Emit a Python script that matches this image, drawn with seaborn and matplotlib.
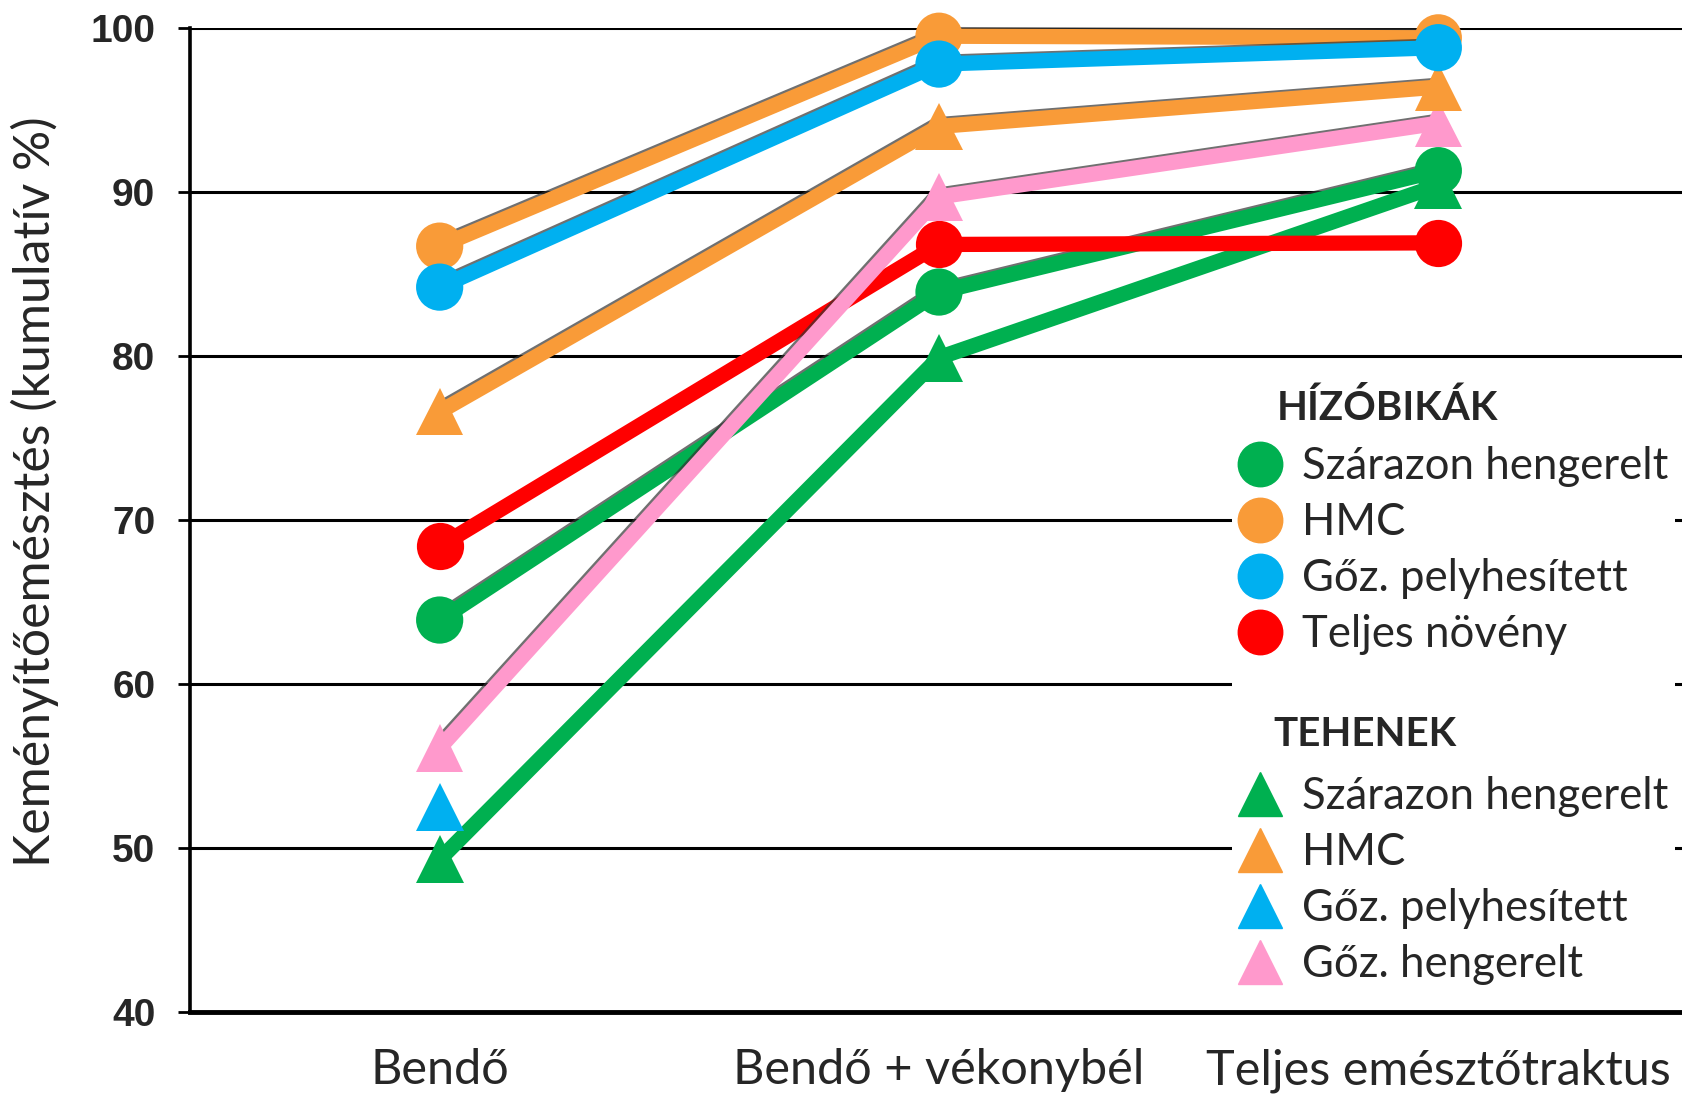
import pandas as pd
import matplotlib.pyplot as plt
import matplotlib.patheffects as pe
from matplotlib.lines import Line2D
import seaborn as sns

# emésztési szakaszok
helyek = ['Bendő', 'Bendő + vékonybél', 'Teljes emésztőtraktus']

# hízóbikák (kör jelölő)
bika_szaraz = [63.9, 83.9, 91.3]
bika_hmc = [86.7, 99.5, 99.4]
bika_goz_pely = [84.2, 97.8, 98.8]
bika_teljes = [68.4, 86.8, 86.9]

# tehenek (háromszög jelölő)
tehen_szaraz = [49.3, 79.9, 90.4]
tehen_hmc = [76.6, 94.0, 96.4]
tehen_goz_pely = [52.5]
tehen_goz_heng = [56.1, 89.7, 94.2]

zold, narancs, kek, piros, rozsa = '#00B050', '#F99B38', '#00B0F0', '#FF0000', '#FF99CC'

# rajzolási sorrend: a későbbi kerül felülre; utolsó mező: van-e árnyék
sorozatok = [
    ('tehen_szaraz', tehen_szaraz, zold, '^', False),
    ('bika_szaraz', bika_szaraz, zold, 'o', True),
    ('bika_teljes', bika_teljes, piros, 'o', False),
    ('tehen_goz_heng', tehen_goz_heng, rozsa, '^', True),
    ('tehen_hmc', tehen_hmc, narancs, '^', True),
    ('bika_hmc', bika_hmc, narancs, 'o', True),
    ('bika_goz_pely', bika_goz_pely, kek, 'o', True),
    ('tehen_goz_pely', tehen_goz_pely, kek, '^', False),
]

rows = []
for nev, ertekek, _, _, _ in sorozatok:
    for i, v in enumerate(ertekek):
        rows.append({'sorozat': nev, 'hely': i, 'ertek': v})
df = pd.DataFrame(rows)

sns.set_style('white')
plt.rcParams['font.family'] = ['Lato', 'DejaVu Sans']

fig = plt.figure(figsize=(16.83, 10.96), dpi=100)
ax = fig.add_axes([190 / 1683, 84 / 1096, 1 - 190 / 1683, 984 / 1096])

arnyek = [pe.SimpleLineShadow(offset=(-1.2, 1.2), shadow_color='0.2', alpha=0.7), pe.Normal()]
for nev, _, szin, jel, van_arnyek in sorozatok:
    sub = df[df['sorozat'] == nev]
    sns.lineplot(data=sub, x='hely', y='ertek', color=szin, marker=jel,
                 markersize=34, markeredgewidth=0, linewidth=11, ax=ax,
                 legend=False, errorbar=None, zorder=3, clip_on=False)
    if van_arnyek:
        ax.lines[-1].set_path_effects(arnyek)

ax.set_xlim(-0.5, 2.49)
ax.set_ylim(40, 100)
ax.set_yticks(range(40, 101, 10))
ax.set_yticklabels([str(v) for v in range(40, 101, 10)],
                   fontfamily='Liberation Sans', fontweight='bold', fontsize=28)
ax.set_xticks(range(3))
ax.set_xticklabels(helyek, fontsize=35)
ax.set_xticks([-0.5, 0.5, 1.5], minor=True)
ax.tick_params(axis='x', which='major', length=0, pad=26)
ax.tick_params(axis='x', which='minor', length=9, width=2, color='black', direction='out')
ax.tick_params(axis='y', length=9, width=2, color='black', direction='out', pad=16, left=True)

ax.yaxis.grid(True, color='black', linewidth=2.2)
ax.set_axisbelow(True)
for s in ['top', 'right']:
    ax.spines[s].set_visible(False)
ax.spines['left'].set_linewidth(2.6)
ax.spines['left'].set_color('black')
ax.spines['bottom'].set_linewidth(3.5)
ax.spines['bottom'].set_color('black')

ax.set_xlabel('')
ax.set_ylabel('Keményítőemésztés (kumulatív %)', fontsize=36, va='center')
ax.yaxis.set_label_coords(-0.104, 0.529)

# jelmagyarázat
ures = Line2D([], [], linestyle='none')
kor = lambda c: Line2D([], [], linestyle='none', marker='o', markersize=32, color=c)
har = lambda c: Line2D([], [], linestyle='none', marker='^', markersize=32, color=c)
kezelok = [ures, kor(zold), kor(narancs), kor(kek), kor(piros), ures,
           ures, har(zold), har(narancs), har(kek), har(rozsa)]
cimkek = [' ', 'Szárazon hengerelt', 'HMC', 'Gőz. pelyhesített', 'Teljes növény', ' ',
          ' ', 'Szárazon hengerelt', 'HMC', 'Gőz. pelyhesített', 'Gőz. hengerelt']
leg = fig.legend(kezelok, cimkek, loc='upper left', bbox_to_anchor=(1232 / 1683, 1 - 384 / 1096),
                 frameon=True, facecolor='white', edgecolor='none', framealpha=1,
                 fontsize=31.5, handlelength=1.0, handletextpad=0.45, labelspacing=0.34,
                 borderpad=0.15, borderaxespad=0)
leg.get_texts()[5].set_fontsize(22)  # kisebb térköz a két csoport között
fig.text(1277 / 1683, 1 - 408 / 1096, 'HÍZÓBIKÁK', fontsize=29, fontweight='bold',
         va='center', ha='left', zorder=10)
fig.text(1273 / 1683, 1 - 734 / 1096, 'TEHENEK', fontsize=29, fontweight='bold',
         va='center', ha='left', zorder=10)

plt.savefig('out.png', dpi=100)
plt.close()
